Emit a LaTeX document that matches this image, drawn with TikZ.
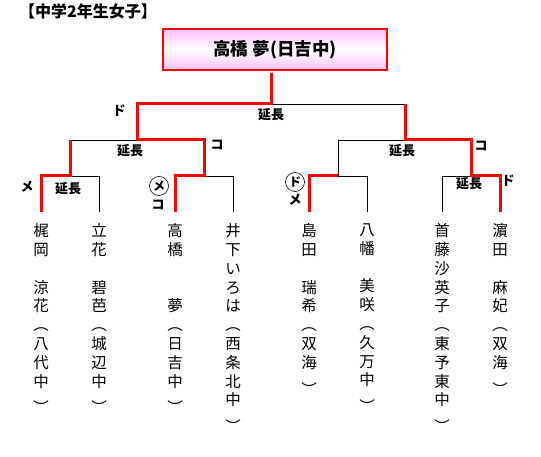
\documentclass[tikz,border=0pt]{standalone}
\usepackage{fontspec}
\setmainfont{Noto Sans CJK JP}
\newcommand{\vclose}{\raisebox{-8pt}{︶}}
\begin{document}
\begin{tikzpicture}[x=1pt,y=-1pt,
  win/.style={draw=red,line width=3pt,line join=miter},
  lose/.style={draw=black,line width=0.9pt},
  player/.style={anchor=north,inner sep=0pt,align=center,font=\fontsize{15.5}{18.8}\selectfont},
  lbl/.style={inner sep=0pt,font=\bfseries\fontsize{13}{13}\selectfont},
  circ/.style={circle,draw,line width=0.6pt,inner sep=0pt,minimum size=19pt,font=\bfseries\fontsize{12}{12}\selectfont}]
\useasboundingbox (0,0) rectangle (541,457);
\node[font=\bfseries\fontsize{16}{16}\selectfont] (title) at (88,11) {【中学2年生女子】};
\node[draw=red,line width=1.2pt,top color=magenta!25,bottom color=magenta!25,middle color=white,minimum width=224pt,minimum height=41pt,inner sep=0pt,font=\bfseries\fontsize{17.5}{17.5}\selectfont] (champ) at (275,49.5) {高橋 夢(日吉中)};
\node[player] (p1) at (41,223.5) {梶\\岡\\　\\涼\\花\\︵\\八\\代\\中\\\vclose};
\node[player] (p2) at (99,223.5) {立\\花\\　\\碧\\芭\\︵\\城\\辺\\中\\\vclose};
\node[player] (p3) at (175,223.5) {高\\橋\\　\\　\\夢\\︵\\日\\吉\\中\\\vclose};
\node[player] (p4) at (233,223.5) {井\\下\\い\\ろ\\は\\︵\\西\\条\\北\\中\\\vclose};
\node[player] (p5) at (309,223.5) {島\\田\\　\\瑞\\希\\︵\\双\\海\\\vclose};
\node[player] (p6) at (367,223.5) {八\\幡\\　\\美\\咲\\︵\\久\\万\\中\\\vclose};
\node[player] (p7) at (442,223.5) {首\\藤\\沙\\英\\子\\︵\\東\\予\\東\\中\\\vclose};
\node[player] (p8) at (500,223.5) {濵\\田\\　\\麻\\妃\\︵\\双\\海\\\vclose};
\foreach \i in {1,...,8} {\coordinate (t\i) at ([yshift=11.5pt]p\i.north);}
\coordinate (a1) at (70,176);
\coordinate (a2) at (204,176);
\coordinate (a3) at (338,176);
\coordinate (a4) at (471,176);
\coordinate (b1) at (137,140);
\coordinate (b2) at (405,140);
\coordinate (c) at (271,104);
\coordinate (ct) at (271,73);
% losing lines
\draw[lose] (t2) |- (a1);
\draw[lose] (a1) |- (b1);
\draw[lose] (t4) |- (a2);
\draw[lose] (t6) |- (a3);
\draw[lose] (a3) |- (b2);
\draw[lose] (t7) |- (a4);
\draw[lose] (c) -- (c -| b2);
% winning lines
\draw[win] (t1) |- (a1) -- (a1 |- b1);
\draw[win] (t3) |- (a2) |- (b1) |- (c) -- (ct);
\draw[win] (t5) |- (a3);
\draw[win] (t8) |- (a4) |- (b2) -- (b2 |- c);
% labels
\node[lbl] (l1) at (119,111) {ド};
\node[lbl] (l2) at (271,115) {延長};
\node[lbl] (l3) at (130,151) {延長};
\node[lbl] (l4) at (217,145) {コ};
\node[lbl] (l5) at (27,187) {メ};
\node[lbl] (l6) at (68,189) {延長};
\node[circ] (l7) at (159,186) {メ};
\node[lbl] (l8) at (158,205) {コ};
\node[circ] (l9) at (295,182) {ド};
\node[lbl] (l10) at (295,200) {メ};
\node[lbl] (l11) at (402,151) {延長};
\node[lbl] (l12) at (481,146) {コ};
\node[lbl] (l13) at (469,184) {延長};
\node[lbl] (l14) at (508,181) {ド};
\end{tikzpicture}
\end{document}
